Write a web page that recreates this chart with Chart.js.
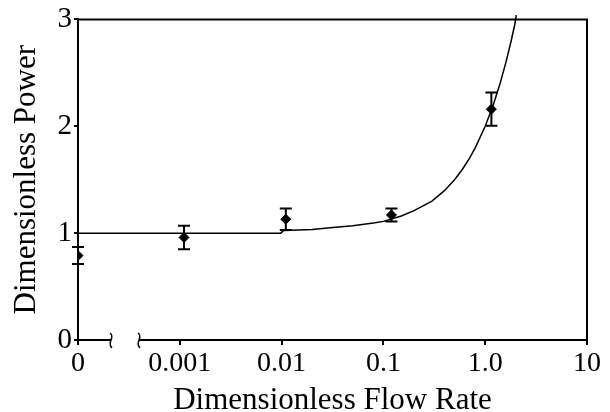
<!DOCTYPE html>
<html>
<head>
<meta charset="utf-8">
<script src="https://cdn.jsdelivr.net/npm/chart.js@4/dist/chart.umd.min.js"></script>
<style>
  body { margin: 0; background: #fff; }
</style>
</head>
<body>
<canvas id="graph" width="610" height="412"></canvas>
<script>
// measured points (x = dimensionless flow rate, y = dimensionless power)
const flowRate = [0, 0.0011, 0.011, 0.12, 1.15];
const power = [0.79, 0.96, 1.13, 1.17, 2.16];
const powerErr = [0.08, 0.11, 0.1, 0.06, 0.155];

// model curve
const curveFlow = [0, 0.001, 0.005, 0.0098, 0.0105, 0.02, 0.03, 0.05, 0.08, 0.1, 0.15, 0.2, 0.3, 0.4, 0.5, 0.6, 0.7, 0.8, 1.0, 1.2, 1.4, 1.6, 1.8, 1.95, 2.02];
const curvePower = [1, 1, 1, 1, 1.025, 1.035, 1.05, 1.07, 1.095, 1.11, 1.16, 1.21, 1.3, 1.4, 1.5, 1.6, 1.7, 1.8, 2.0, 2.2, 2.4, 2.6, 2.8, 2.95, 3.04];

const xTicks = [0, 0.001, 0.01, 0.1, 1, 10];
const xTickLabels = ['0', '0.001', '0.01', '0.1', '1.0', '10'];
const yTicks = [0, 1, 2, 3];

// the "0" on the broken axis sits where 1e-4 would be
const zeroPos = 0.0001;
const pos = v => (v === 0 ? zeroPos : v);

const serif = 'Liberation Serif';

const frame = {
  id: 'frame',
  afterDatasetsDraw(chart) {
    const ctx = chart.ctx;
    const xs = chart.scales.x, ys = chart.scales.y;
    ctx.save();
    ctx.strokeStyle = '#000';
    ctx.lineWidth = 2;
    // error bars
    flowRate.forEach((q, i) => {
      const px = xs.getPixelForValue(pos(q));
      const top = ys.getPixelForValue(power[i] + powerErr[i]);
      const bot = ys.getPixelForValue(power[i] - powerErr[i]);
      ctx.beginPath();
      ctx.moveTo(px, top); ctx.lineTo(px, bot);
      ctx.moveTo(px - 6, top); ctx.lineTo(px + 6, top);
      ctx.moveTo(px - 6, bot); ctx.lineTo(px + 6, bot);
      ctx.stroke();
    });
    ctx.restore();
  },
  afterDraw(chart) {
    const ctx = chart.ctx;
    const a = chart.chartArea;
    ctx.save();
    ctx.strokeStyle = '#000';
    ctx.lineWidth = 2;
    ctx.beginPath();
    ctx.moveTo(a.left, a.bottom);
    ctx.lineTo(a.left, a.top);
    ctx.lineTo(a.right, a.top);
    ctx.lineTo(a.right, a.bottom);
    ctx.stroke();
    // axis break
    const y0 = a.bottom;
    const x1 = 111, x2 = 139;
    ctx.fillStyle = '#fff';
    ctx.fillRect(x1, y0 - 2, x2 - x1, 4);
    ctx.lineWidth = 1.5;
    [x1, x2].forEach(x => {
      ctx.beginPath();
      ctx.moveTo(x - 1, y0 - 7);
      ctx.bezierCurveTo(x + 5, y0 - 3, x - 5, y0 + 3, x + 1, y0 + 8);
      ctx.stroke();
    });
    ctx.restore();
  }
};

new Chart(document.querySelector('#graph').getContext('2d'), {
  type: 'scatter',
  data: {
    datasets: [{
      label: 'model',
      data: curveFlow.map((q, i) => ({ x: pos(q), y: curvePower[i] })),
      showLine: true,
      borderColor: '#000',
      borderWidth: 1.5,
      pointRadius: 0,
      clip: false
    }, {
      label: 'measured',
      data: flowRate.map((q, i) => ({ x: pos(q), y: power[i] })),
      pointStyle: 'rectRot',
      pointRadius: 5,
      backgroundColor: '#000',
      borderColor: '#000'
    }]
  },
  options: {
    responsive: false,
    animation: false,
    devicePixelRatio: 1,
    layout: { padding: { top: 18, right: 23, left: 0, bottom: 0 } },
    plugins: { legend: { display: false }, tooltip: { enabled: false } },
    scales: {
      x: {
        type: 'logarithmic',
        min: zeroPos,
        max: 10,
        afterBuildTicks: s => { s.ticks = xTicks.map(v => ({ value: pos(v) })); },
        afterFit: s => { s.height = 72; },
        ticks: {
          autoSkip: false,
          maxRotation: 0,
          color: '#000',
          padding: 2,
          font: { family: serif, size: 28 },
          callback: (v, i) => xTickLabels[i]
        },
        grid: { drawOnChartArea: false, color: '#000', lineWidth: 2, tickLength: 5 },
        border: { color: '#000', width: 2 },
        title: {
          display: true,
          text: 'Dimensionless Flow Rate',
          color: '#000',
          padding: { top: 0, bottom: -7 },
          font: { family: serif, size: 31 }
        }
      },
      y: {
        min: 0,
        max: 3,
        afterBuildTicks: s => { s.ticks = yTicks.map(v => ({ value: v })); },
        afterFit: s => { s.width = 78; },
        ticks: {
          color: '#000',
          padding: 2,
          font: { family: serif, size: 29 }
        },
        grid: { drawOnChartArea: false, color: '#000', lineWidth: 2, tickLength: 4 },
        border: { color: '#000', width: 2 },
        title: {
          display: true,
          text: 'Dimensionless Power',
          color: '#000',
          padding: { top: 8, bottom: 0 },
          font: { family: serif, size: 31 }
        }
      }
    }
  },
  plugins: [frame]
});
</script>
</body>
</html>
